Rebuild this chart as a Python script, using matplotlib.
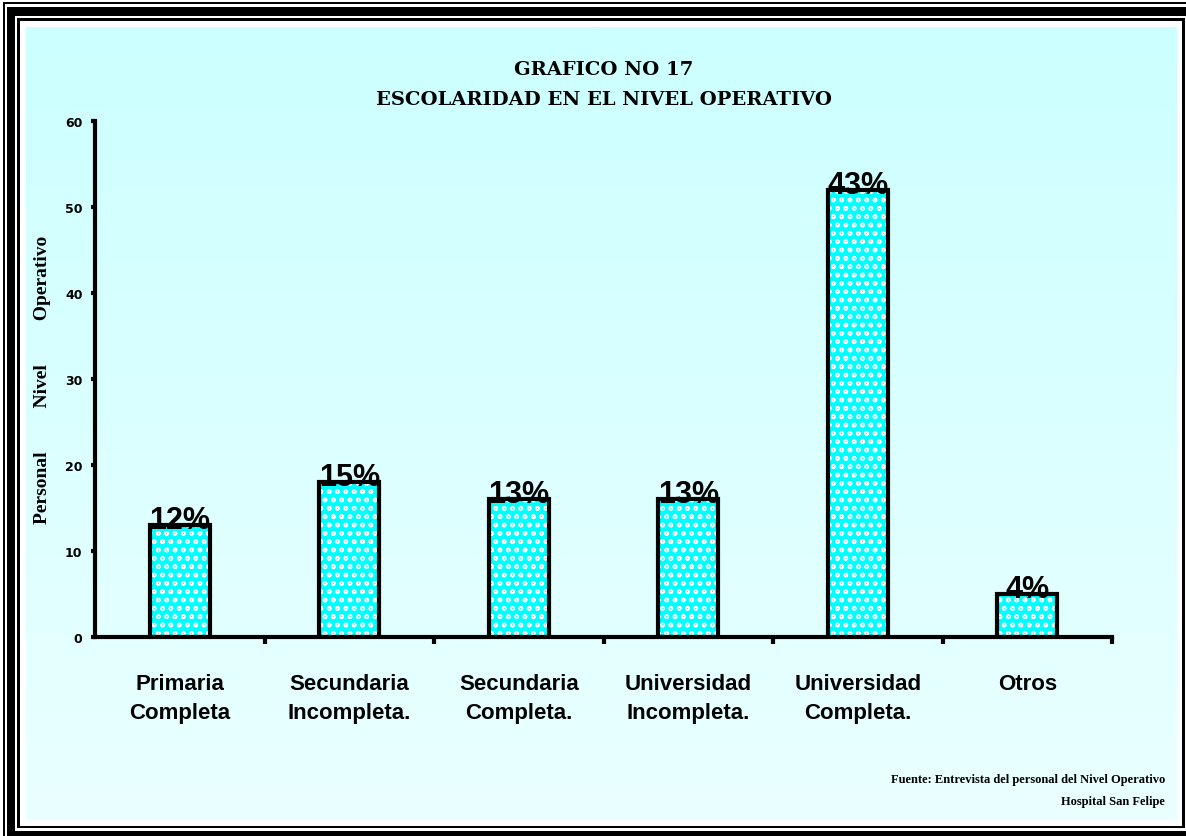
import numpy as np
import matplotlib
matplotlib.use('Agg')
import matplotlib.pyplot as plt
from matplotlib.patches import Rectangle

categorias = ['Primaria\nCompleta', 'Secundaria\nIncompleta.', 'Secundaria\nCompleta.',
              'Universidad\nIncompleta.', 'Universidad\nCompleta.', 'Otros']
personal = [13, 18, 16, 16, 52, 5]
porcentajes = ['12%', '15%', '13%', '13%', '43%', '4%']

W, H = 1186, 837
fig = plt.figure(figsize=(W / 100, H / 100), dpi=100)

# marco y fondo degradado (coordenadas en pixeles)
bg = fig.add_axes([0, 0, 1, 1], zorder=0)
bg.axis('off')
for (x0, y0, x1, y1, c) in [(3, 3, W + 5, H + 5, 'black'),
                            (5, 5, W + 5, H + 5, 'white'),
                            (7, 8, W + 5, H + 5, 'black'),
                            (15, 17, W + 5, 832, 'white'),
                            (17, 19, 1185, 829, 'black'),
                            (20, 22, 1182, 827, 'white')]:
    bg.add_patch(Rectangle((x0, y0), x1 - x0, y1 - y0, color=c, lw=0, zorder=1))
grad = np.linspace(0, 1, 256)[:, None, None]
top = np.array([204, 255, 255]) / 255
bot = np.array([234, 255, 255]) / 255
img = top * (1 - grad) + bot * grad
bg.imshow(img, extent=(26, 1177, 821, 28), aspect='auto', interpolation='bilinear', zorder=5)
bg.set_xlim(0, W)
bg.set_ylim(H, 0)

ax = fig.add_axes([95 / W, 1 - 638 / H, (1112 - 95) / W, (638 - 122) / H], zorder=1)
ax.patch.set_alpha(0)

x = np.arange(len(personal))
ax.bar(x, personal, width=0.355, color='#00ffff', edgecolor='white', hatch='oo', lw=0, zorder=2)
ax.bar(x, personal, width=0.355, facecolor='none', edgecolor='black', lw=3, zorder=3)

for xi, v, p in zip(x, personal, porcentajes):
    ax.annotate(p, xy=(xi, v), xytext=(0, -2), textcoords='offset points',
                ha='center', va='baseline', fontsize=22, fontweight='bold',
                family='Liberation Sans', zorder=4)

ax.set_xlim(-0.5, 5.5)
ax.set_ylim(0, 60)
ax.set_yticks(range(0, 61, 10))
ax.set_xticks(x)
ax.set_xticklabels(categorias, fontsize=16, fontweight='bold', family='Liberation Sans',
                   linespacing=1.5)
ax.set_xticks(np.arange(0.5, 6, 1), minor=True)
ax.tick_params(axis='x', which='major', length=0, pad=26)
ax.tick_params(axis='x', which='minor', length=5, width=3, direction='out')
ax.tick_params(axis='y', length=3, width=3, direction='out', pad=6)
for t in ax.get_yticklabels():
    t.set_fontweight('bold')
    t.set_fontsize(9)
for s in ['top', 'right']:
    ax.spines[s].set_visible(False)
for s in ['left', 'bottom']:
    ax.spines[s].set_linewidth(3)

ax.set_ylabel('Personal         Nivel         Operativo', family='Liberation Serif',
              fontweight='bold', fontsize=14, labelpad=10)

cx = (95 + 1112) / 2 / W
fig.text(cx, 1 - 70 / H, 'GRAFICO NO 17', ha='center', va='center',
         family='DejaVu Serif', fontweight='heavy', fontsize=14)
fig.text(cx, 1 - 100 / H, 'ESCOLARIDAD EN EL NIVEL OPERATIVO', ha='center', va='center',
         family='DejaVu Serif', fontweight='heavy', fontsize=14)

fig.text(1165 / W, 1 - 780 / H, 'Fuente: Entrevista del personal del Nivel Operativo',
         ha='right', va='center', family='Liberation Serif', fontweight='bold', fontsize=9)
fig.text(1165 / W, 1 - 802 / H, 'Hospital San Felipe',
         ha='right', va='center', family='Liberation Serif', fontweight='bold', fontsize=9)

fig.savefig('out.png', dpi=100)
